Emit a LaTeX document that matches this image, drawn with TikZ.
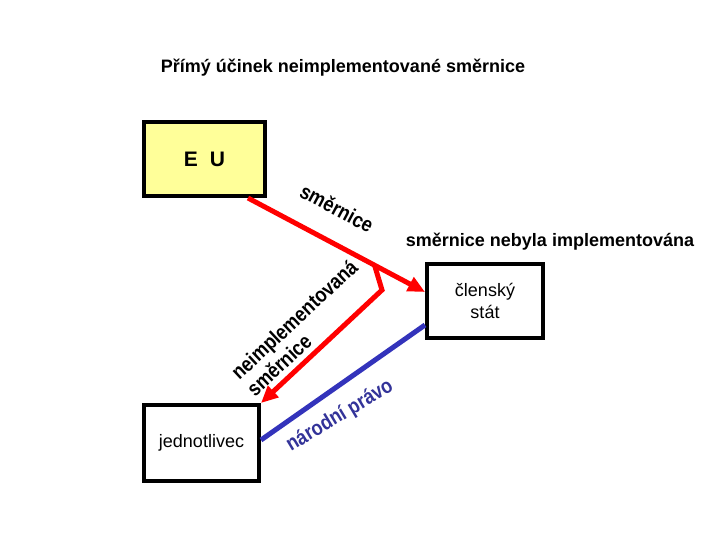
\documentclass[tikz,border=0pt]{standalone}
\usepackage{fontspec}
\setmainfont{Liberation Sans}
\usetikzlibrary{arrows.meta,calc}
\definecolor{euyellow}{HTML}{FFFF99}
\definecolor{arrowred}{HTML}{FF0000}
\definecolor{lawblue}{HTML}{3333BB}
\definecolor{lawtext}{HTML}{333399}
\newcommand{\artnarrow}[1]{\scalebox{0.86}[1]{#1}}
\begin{document}
\begin{tikzpicture}[x=1pt,y=-1pt,
  box/.style={draw=black,line width=4pt,inner sep=0pt,align=center,
    font=\fontsize{18}{22}\selectfont},
  lbl/.style={inner sep=0pt,font=\fontsize{18}{23}\selectfont\bfseries},
  artlbl/.style={inner sep=0pt,font=\fontsize{21}{23}\selectfont\bfseries},
  redarrow/.style={draw=arrowred,line width=5pt,-{Triangle[length=17pt,width=15pt]}},
  bluelink/.style={draw=lawblue,line width=5pt}
]
\fill[white] (0,0) rectangle (720,540);
\useasboundingbox (0,0) rectangle (720,540);

% title
\node[lbl,anchor=base] (title) at (343,73) {Přímý účinek neimplementované směrnice};

% boxes
\node[box,fill=euyellow,minimum width=121pt,minimum height=74pt,
  font=\fontsize{21}{26}\selectfont\bfseries] (eu) at (204.5,159) {E\hspace{12pt}U};
\node[box,fill=white,minimum width=116pt,minimum height=74pt] (state) at (485,301) {členský\\stát};
\node[box,fill=white,minimum width=115pt,minimum height=76pt] (jed) at (201.5,443) {jednotlivec};

% red directive arrow EU -> state
\coordinate (s0) at ([xshift=-19pt]eu.south east);
\coordinate (s1) at ([yshift=9pt]state.west);
\draw[redarrow] (s0) -- (s1);
% branch: not implemented directive -> individual
\coordinate (b0) at ($(s0)!0.715!(s1)$);
\coordinate (b1) at (382,290);
\draw[redarrow] (b0) -- (b1) -- (jed.north east);

% blue national law link
\draw[bluelink] ([yshift=-24pt]state.west) -- ([yshift=3pt]jed.east);

% labels
\node[artlbl,rotate=-28] (lsm) at (337,208) {\artnarrow{směrnice}};
\node[lbl,anchor=base] (lnot) at (550,247) {směrnice nebyla implementována};
\node[artlbl,rotate=43] (lneimp) at (304,330)
  {\artnarrow{\begin{tabular}{@{}l@{}}neimplementovaná\\[0pt]směrnice\end{tabular}}};
\node[artlbl,rotate=31,text=lawtext] (lnar) at (340,416) {\artnarrow{národní právo}};
\end{tikzpicture}
\end{document}
